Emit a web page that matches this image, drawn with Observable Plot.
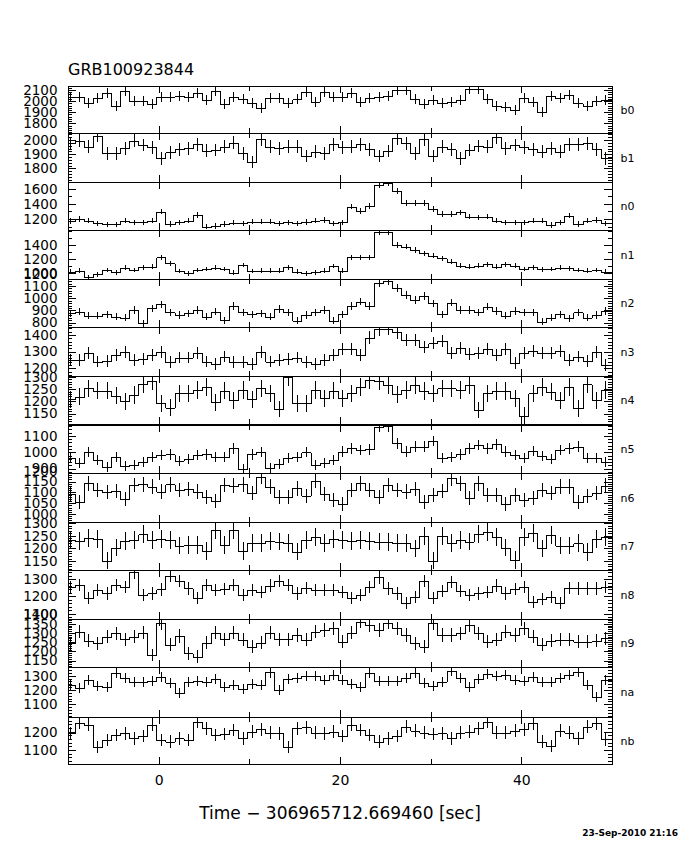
<!DOCTYPE html>
<html><head><meta charset="utf-8">
<script src="https://cdn.jsdelivr.net/npm/d3@7"></script>
<script src="https://cdn.jsdelivr.net/npm/@observablehq/plot@0.6"></script>
<style>
body{margin:0;background:#fff;}
#chart{position:relative;width:680px;height:850px;background:#fff;font-family:"DejaVu Sans",sans-serif;color:#000;overflow:hidden}
.txt{position:absolute;white-space:nowrap;line-height:1;font-family:"DejaVu Sans",sans-serif;color:#000}
</style></head><body><div id="chart"></div>
<script>
// ---- data ----
const title = "GRB100923844";
const xTitle = "Time \u2212 306965712.669460 [sec]";
const stamp = "23-Sep-2010 21:16";
const detectors = ["b0","b1","n0","n1","n2","n3","n4","n5","n6","n7","n8","n9","na","nb"];
const binStart = -10.25, binWidth = 1;       // 1 s bins
const xTickLabels = [0, 20, 40];
const xMinorTicks = [-10, 10, 30, 50];

const rate_b0 = [2040,2040,1986,2031,2070,1956,2094,2004,2004,1974,2040,2040,2046,2040,2070,2010,2094,1974,2040,2016,1980,1935,2031,2025,1980,2016,2085,1995,2085,2040,2040,2076,1995,2025,2034,2049,2100,2100,2019,1974,2010,1980,1989,2010,2106,2106,2019,1956,1950,1920,2025,1995,1899,2046,2025,2055,1980,1956,2004,2010];
const rate_b1 = [1977,1995,1953,2028,1906,1906,1941,1995,1965,1949,1871,1913,1934,1941,1970,1925,1930,1953,1981,1906,1848,2005,1953,1941,1953,1953,1888,1918,1906,1970,1949,1953,1970,1934,1888,1923,2012,1977,1906,2005,1888,1953,1934,1871,1930,1958,1953,2019,1941,1965,1949,1934,1918,1941,1918,1970,1970,1977,1934,1871];
const rate_n0 = [1174,1200,1178,1143,1130,1130,1178,1156,1156,1178,1297,1134,1156,1178,1253,1099,1108,1134,1152,1143,1165,1165,1165,1143,1156,1143,1160,1178,1187,1143,1156,1363,1306,1372,1649,1671,1574,1407,1407,1407,1332,1266,1266,1288,1231,1222,1231,1178,1156,1156,1156,1178,1178,1121,1156,1244,1134,1178,1187,1143];
const rate_n1 = [1023,1038,943,986,1047,1014,1080,1047,1085,1094,1226,1141,1033,1000,1047,1061,1080,1061,1009,1118,1033,1038,1038,1038,1085,1023,1000,1014,1038,1103,1038,1226,1226,1226,1579,1579,1400,1376,1329,1282,1249,1212,1165,1108,1094,1108,1127,1094,1127,1108,1061,1085,1056,1061,1080,1070,1047,1038,1047,1023];
const rate_n2 = [876,890,857,857,868,849,840,903,794,917,950,884,862,876,903,849,890,821,936,884,868,876,849,912,884,816,862,884,903,816,868,936,972,936,1122,1141,1081,1026,985,1018,958,868,963,903,903,884,931,895,857,895,884,884,808,840,868,835,884,840,862,895];
const rate_n3 = [1251,1251,1290,1241,1245,1280,1300,1251,1257,1280,1300,1237,1265,1265,1290,1241,1225,1271,1237,1237,1225,1300,1241,1251,1257,1265,1239,1225,1251,1280,1316,1316,1280,1384,1434,1436,1416,1370,1370,1330,1350,1364,1290,1324,1284,1290,1316,1280,1316,1231,1290,1304,1290,1290,1304,1251,1271,1245,1296,1221];
const rate_n4 = [1209,1219,1253,1243,1243,1223,1201,1226,1269,1283,1192,1174,1232,1232,1246,1259,1196,1243,1205,1246,1209,1253,1232,1169,1300,1192,1192,1246,1212,1243,1212,1232,1259,1287,1283,1266,1228,1246,1266,1242,1232,1253,1253,1246,1266,1165,1232,1242,1242,1212,1142,1232,1259,1239,1205,1259,1171,1269,1205,1246];
const rate_n5 = [963,932,1000,953,912,973,918,922,938,969,983,987,949,959,983,987,973,969,1024,898,987,1000,902,926,963,969,1000,922,932,953,1004,1024,1014,1018,1157,1161,1055,1004,1034,1034,1069,963,973,987,1024,1045,1024,1049,1004,983,967,1008,979,959,1014,1024,1034,967,963,942];
const rate_n6 = [1091,1054,1142,1111,1101,1107,1070,1135,1138,1127,1104,1138,1111,1116,1104,1080,1060,1135,1132,1138,1096,1173,1127,1080,1080,1119,1085,1153,1091,1065,1045,1111,1142,1111,1080,1135,1111,1104,1116,1054,1088,1107,1166,1142,1073,1142,1088,1088,1045,1088,1065,1076,1111,1096,1127,1127,1054,1085,1096,1132];
const rate_n7 = [1233,1229,1242,1237,1152,1203,1229,1233,1255,1233,1237,1233,1211,1214,1214,1190,1273,1214,1273,1190,1220,1220,1229,1227,1220,1187,1233,1246,1220,1237,1233,1229,1233,1229,1227,1224,1220,1220,1200,1250,1151,1250,1220,1233,1227,1255,1266,1246,1203,1154,1246,1259,1200,1253,1211,1211,1220,1185,1237,1246];
const rate_n8 = [1256,1265,1189,1237,1217,1265,1256,1338,1208,1217,1240,1319,1290,1246,1189,1265,1237,1242,1265,1208,1237,1227,1262,1290,1265,1217,1250,1237,1237,1237,1227,1189,1208,1256,1309,1246,1217,1160,1198,1288,1192,1231,1284,1231,1208,1217,1227,1262,1217,1242,1256,1170,1185,1198,1160,1250,1246,1246,1246,1256];
const rate_n9 = [1244,1307,1258,1244,1280,1298,1266,1280,1302,1180,1353,1235,1284,1189,1171,1247,1302,1266,1302,1262,1226,1247,1302,1266,1266,1289,1262,1307,1316,1325,1253,1302,1362,1343,1316,1356,1325,1289,1244,1226,1353,1289,1289,1298,1343,1298,1253,1262,1307,1289,1325,1280,1235,1258,1262,1262,1253,1253,1258,1271];
const rate_na = [1235,1212,1270,1228,1219,1317,1282,1258,1258,1265,1289,1251,1177,1258,1265,1258,1277,1223,1235,1205,1242,1235,1323,1200,1275,1282,1298,1298,1270,1305,1270,1242,1223,1317,1265,1265,1265,1282,1317,1247,1228,1258,1335,1282,1219,1275,1312,1298,1305,1270,1265,1293,1258,1258,1282,1305,1328,1235,1149,1270];
const rate_nb = [1191,1250,1237,1118,1155,1182,1191,1164,1177,1237,1155,1146,1164,1155,1255,1219,1182,1188,1209,1164,1200,1213,1195,1191,1118,1219,1224,1195,1191,1200,1177,1237,1209,1182,1146,1164,1177,1228,1206,1195,1188,1191,1164,1195,1200,1219,1255,1195,1195,1206,1213,1246,1146,1122,1206,1195,1164,1228,1246,1158];

const ticks_b0 = [1800,1900,2000,2100];
const ticks_b1 = [1800,1900,2000];
const ticks_n0 = [1200,1400,1600];
const ticks_n1 = [1000,1200,1400];
const ticks_n2 = [800,900,1000,1100,1200];
const ticks_n3 = [1200,1300,1400];
const ticks_n4 = [1150,1200,1250,1300];
const ticks_n5 = [900,1000,1100];
const ticks_n6 = [1000,1050,1100,1150,1200];
const ticks_n7 = [1150,1200,1250,1300];
const ticks_n8 = [1100,1200,1300];
const ticks_n9 = [1150,1200,1250,1300,1350,1400];
const ticks_na = [1100,1200,1300];
const ticks_nb = [1100,1200];

// ---- scale / layout config ----
const rates = [rate_b0,rate_b1,rate_n0,rate_n1,rate_n2,rate_n3,rate_n4,rate_n5,rate_n6,rate_n7,rate_n8,rate_n9,rate_na,rate_nb];
const labelTicks = [ticks_b0,ticks_b1,ticks_n0,ticks_n1,ticks_n2,ticks_n3,ticks_n4,ticks_n5,ticks_n6,ticks_n7,ticks_n8,ticks_n9,ticks_na,ticks_nb];
const minorStep = [20,20,100,100,20,20,10,20,10,10,20,10,20,20];
const yDomains = [[1713,2136],[1705,2049],[1055,1688],[920,1612],[764,1157],[1154,1448],[1108,1303],[873,1167],[963,1190],[1115,1304],[1070,1352],[1115,1376],[1011,1361],[1024,1280]];
const xDomain = [-10, 50];
const panelTops    = [86,133,182,230,279,327,376,425,473,522,570,619,667,717];
const panelBottoms = [133,182,230,279,327,376,424,473,522,570,619,667,717,764];

const W = 680, ML = 68, MR = 68, PAD = 16;
const chart = document.getElementById("chart");
const font = "DejaVu Sans, sans-serif";

detectors.forEach((det, i) => {
  const vals = rates[i];
  const bins = vals.map((v, j) => ({x0: binStart + j*binWidth, xc: binStart + (j+0.5)*binWidth, v, err: Math.sqrt(v)}));
  const stepPts = bins.map(b => ({x: b.x0, y: b.v})).concat([{x: xDomain[1], y: vals[vals.length-1]}]);
  const [lo, hi] = yDomains[i];
  const st = minorStep[i];
  const major = labelTicks[i].filter(v => v >= lo && v <= hi);
  const minor = d3.range(Math.ceil(lo/st)*st, hi, st).filter(v => !labelTicks[i].includes(v));
  const innerH = panelBottoms[i] - panelTops[i];
  const innerW = W - ML - MR;
  const marks = [
    Plot.line(stepPts, {x: "x", y: "y", curve: "step-after", stroke: "black", strokeWidth: 1, clip: true}),
    Plot.ruleX(bins, {x: "xc", y1: d => d.v - d.err, y2: d => d.v + d.err, stroke: "black", strokeWidth: 1, clip: true}),
    Plot.tickY(major, {y: d => d, insetRight: innerW - 8, stroke: "black"}),
    Plot.tickY(major, {y: d => d, insetLeft: innerW - 8, stroke: "black"}),
    Plot.tickY(minor, {y: d => d, insetRight: innerW - 4, stroke: "black"}),
    Plot.tickY(minor, {y: d => d, insetLeft: innerW - 4, stroke: "black"}),
    Plot.tickX(xTickLabels, {x: d => d, insetBottom: innerH - 7, stroke: "black"}),
    Plot.tickX(xTickLabels, {x: d => d, insetTop: innerH - 7, stroke: "black"}),
    Plot.tickX(xMinorTicks, {x: d => d, insetBottom: innerH - 5, stroke: "black"}),
    Plot.tickX(xMinorTicks, {x: d => d, insetTop: innerH - 5, stroke: "black"}),
    Plot.frame({stroke: "black", strokeWidth: 1}),
    Plot.text(labelTicks[i], {y: d => d, text: d => String(d), frameAnchor: "left", dx: -11, textAnchor: "end", fontSize: 13.5, fill: "black", ariaLabel: "ylabels"}),
    Plot.text([det], {text: d => d, frameAnchor: "right", dx: 8, textAnchor: "start", fontSize: 11, fill: "black"})
  ];
  if (i === detectors.length - 1) {
    marks.push(Plot.text(xTickLabels, {x: d => d, text: d => String(d), frameAnchor: "bottom", dy: 11, lineAnchor: "top", fontSize: 14, fill: "black", ariaLabel: "xlabels"}));
  }
  const svg = Plot.plot({
    width: W, height: innerH + 2*PAD,
    marginLeft: ML, marginRight: MR, marginTop: PAD, marginBottom: PAD,
    x: {domain: xDomain, axis: null},
    y: {domain: [lo, hi], axis: null},
    style: {fontFamily: font, background: "transparent", overflow: "visible"},
    marks
  });
  svg.style.position = "absolute";
  svg.style.left = "0px";
  svg.style.top = (panelTops[i] - PAD) + "px";
  svg.style.overflow = "visible";
  svg.style.background = "transparent";
  svg.style.shapeRendering = "crispEdges";
  svg.querySelectorAll('[aria-label="ylabels"] text').forEach(t => t.style.letterSpacing = "2px");
  chart.appendChild(svg);
});

function addText(str, css) {
  const d = document.createElement("div");
  d.className = "txt";
  d.textContent = str;
  Object.assign(d.style, css);
  chart.appendChild(d);
}
addText(title, {left: "68px", top: "62px", fontSize: "16px"});
addText(xTitle, {left: "340px", top: "805px", fontSize: "17px", transform: "translateX(-50%)"});
addText(stamp, {right: "2px", top: "829px", fontSize: "9px", fontWeight: "bold"});
</script>
</body></html>
